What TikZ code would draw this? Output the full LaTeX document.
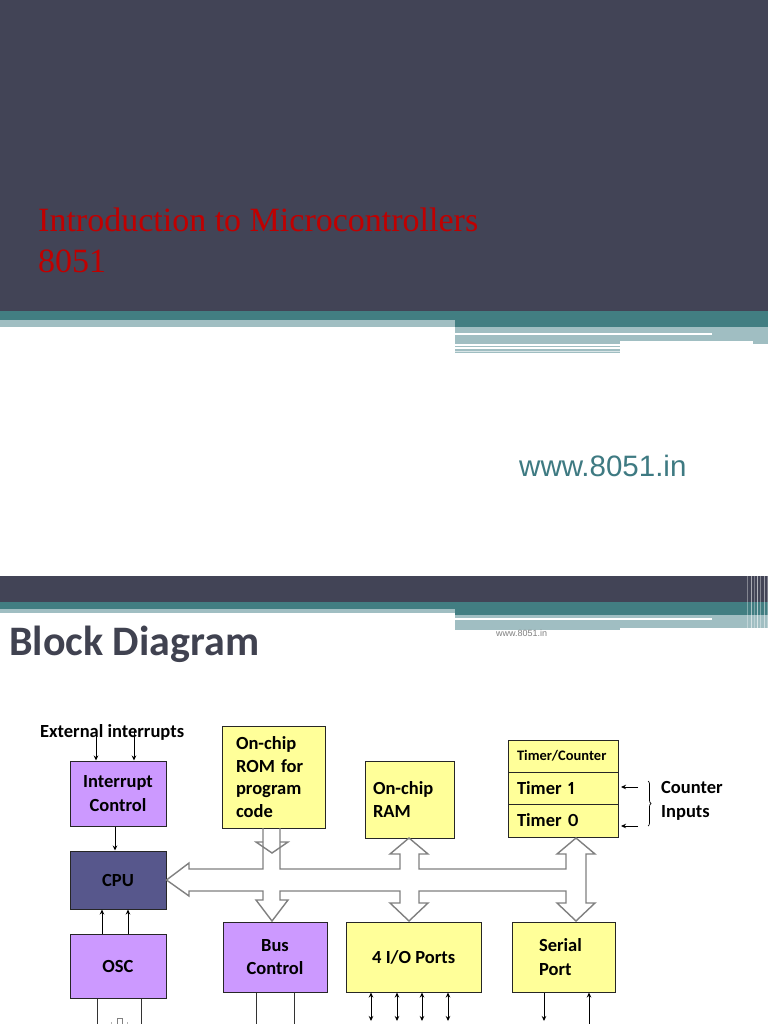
\documentclass[tikz,border=0pt]{standalone}
\usepackage{fontspec}
\newfontfamily\carl[Numbers=Proportional]{Carlito}
\newfontfamily\lsans{Liberation Sans}
\newfontfamily\lserif{Liberation Serif}
\usetikzlibrary{arrows.meta,calc,decorations.pathreplacing}
\definecolor{slidedark}{RGB}{66,68,86}
\definecolor{teal1}{RGB}{66,126,130}
\definecolor{lightteal}{RGB}{160,190,194}
\definecolor{titlered}{RGB}{192,0,0}
\definecolor{urlteal}{RGB}{62,122,130}
\definecolor{purp}{RGB}{204,153,255}
\definecolor{cpucol}{RGB}{87,87,140}
\definecolor{yel}{RGB}{255,255,153}
\definecolor{headgrey}{RGB}{64,66,80}
\definecolor{busgrey}{RGB}{128,128,128}
\begin{document}
\begin{tikzpicture}[x=1pt,y=-1pt,
  box/.style={draw=black!85, line width=1pt, inner sep=0pt, font=\carl\bfseries\fontsize{18.5}{23.5}\selectfont},
  lbl/.style={inner sep=0pt, font=\carl\bfseries\fontsize{18.5}{23.5}\selectfont, align=left},
  arr/.style={line width=0.9pt, -{Stealth[length=5pt,width=4.5pt]}},
  darr/.style={line width=0.9pt, {Stealth[length=5pt,width=4.5pt]}-{Stealth[length=5pt,width=4.5pt]}},
  bus/.style={draw=busgrey, line width=1.4pt, line join=miter},
  plain/.style={line width=0.9pt}
]
\useasboundingbox[fill=white] (0,0) rectangle (768,1024);

% ---------- slide 1 ----------
\fill[slidedark] (0,0) rectangle (768,311);
\fill[teal1] (0,311) rectangle (768,320);
\fill[teal1] (455,320) rectangle (768,327);
\fill[lightteal] (0,320) rectangle (455,327);
\fill[lightteal] (455,327) rectangle (620,344);
\fill[lightteal] (620,327) rectangle (768,341);
\fill[lightteal] (753,341) rectangle (768,344);
\fill[white] (455,333) rectangle (712,335);
\fill[lightteal] (455,345.5) rectangle (620,346.5);
\fill[lightteal] (455,349) rectangle (620,353);
\fill[white!60!lightteal] (455,350.6) rectangle (620,351.4);

\node[anchor=base west, inner sep=0pt, text=titlered, font=\lserif\fontsize{34}{38}\selectfont] (title1) at (38,232) {Introduction to Microcontrollers};
\node[anchor=base west, inner sep=0pt, text=titlered, font=\lserif\fontsize{34}{38}\selectfont] (title2) at (38,272) {8051};
\node[anchor=base west, inner sep=0pt, text=urlteal, font=\lsans\fontsize{29.5}{34}\selectfont] (url) at (519,476) {www.8051.in};

% ---------- slide 2 ----------
\fill[slidedark] (0,576) rectangle (768,602);
\fill[teal1] (0,602) rectangle (768,609);
\fill[teal1] (455,609) rectangle (768,615);
\fill[lightteal] (0,609) rectangle (455,613);
\fill[lightteal] (455,615) rectangle (620,630);
\fill[lightteal] (620,615) rectangle (768,628);
\fill[white] (455,618) rectangle (712,620);
\foreach \xx/\op in {747/0.35,750.5/0.55,754/0.3,757/0.6,760/0.35,763.5/0.5,766.5/0.3}
  \fill[white, opacity=\op] (\xx,576) rectangle (\xx+1.4,629);

\node[anchor=base west, inner sep=0pt, text=headgrey, font=\carl\bfseries\fontsize{42}{48}\selectfont] (bd) at (9,655) {Block Diagram};
\node[anchor=base west, inner sep=0pt, text=gray, font=\lsans\fontsize{9}{11}\selectfont] (url2) at (496,636) {www.8051.in};

% ---------- diagram ----------
\node[anchor=base west, lbl, font=\carl\bfseries\fontsize{18.5}{22}\selectfont] (ext) at (40,737) {External interrupts};

\node[box, fill=purp, minimum width=96pt, minimum height=65pt, align=center] (ic) at (118,793.5) {Interrupt\\Control};
\node[box, fill=cpucol, minimum width=96pt, minimum height=58pt] (cpu) at (118,880) {CPU};
\node[box, fill=purp, minimum width=96pt, minimum height=64pt] (osc) at (118,966) {OSC};

\node[box, fill=yel, minimum width=103pt, minimum height=102pt, inner xsep=14pt, text width=75pt, align=left, font=\carl\bfseries\fontsize{18.5}{22.5}\selectfont] (rom) at (273.5,777) {On-chip\\ROM for\\program\\code};
\node[box, fill=purp, minimum width=104pt, minimum height=70pt, align=center] (bc) at (275,957) {Bus\\Control};

\node[box, fill=yel, minimum width=89pt, minimum height=77pt, inner xsep=8pt, text width=73pt, align=left] (ram) at (409.5,799.5) {On-chip\\RAM};
\node[box, fill=yel, minimum width=135pt, minimum height=70pt] (io) at (413.5,957) {4 I/O Ports};

\node[box, fill=yel, minimum width=110pt, minimum height=32pt, inner xsep=9pt, text width=92pt, align=left, font=\carl\bfseries\fontsize{14.5}{17}\selectfont] (tc) at (563,756) {Timer/Counter};
\node[box, fill=yel, minimum width=110pt, minimum height=32pt, inner xsep=9pt, text width=92pt, align=left] (tm1) at (563,788) {Timer 1};
\node[box, fill=yel, minimum width=110pt, minimum height=33pt, inner xsep=9pt, text width=92pt, align=left] (tm0) at (563,820.5) {Timer 0};
\node[box, fill=yel, minimum width=103pt, minimum height=70pt, inner xsep=27pt, text width=49pt, align=left] (sp) at (563.5,957) {Serial\\Port};

\node[lbl, anchor=west] (cin) at (661,801) {Counter\\Inputs};

% external interrupts
\coordinate (e1) at (96,729);
\coordinate (e2) at (134,729);
\draw[arr] (e1) -- (e1 |- ic.north);
\draw[arr] (e2) -- (e2 |- ic.north);
% interrupt -> cpu
\draw[arr] ($(ic.south)+(-3,0)$) -- ($(cpu.north)+(-3,0)$);
% osc -> cpu
\draw[arr] ($(osc.north)+(-16,0)$) -- ($(cpu.south)+(-16,0)$);
\draw[arr] ($(osc.north)+(10,0)$) -- ($(cpu.south)+(10,0)$);
% below osc
\draw[plain, black!80] ($(osc.south)+(-21,0)$) -- ++(0,40);
\draw[plain, black!80] ($(osc.south)+(23,0)$) -- ++(0,40);
\draw[busgrey, line width=0.8pt] (117,1030) -- (117,1018) -- (122,1018) -- (122,1030);
\draw[busgrey!60, line width=0.6pt] (111,1022) -- (111,1030);
\draw[busgrey!60, line width=0.6pt] (127,1022) -- (127,1030);
% below bus control
\draw[plain, black!80] ($(bc.south)+(-19,0)$) -- ++(0,40);
\draw[plain, black!80] ($(bc.south)+(19,0)$) -- ++(0,40);
% io ports
\foreach \xx in {371,397,422,448}
  \draw[darr] (\xx,992.5) -- (\xx,1021);
% serial port
\draw[arr] (544,992.5) -- (544,1021);
\draw[arr] (589,1030) -- (589,992.5);
% counter inputs
\coordinate (c1) at (638,787);
\coordinate (c0) at (638,826);
\draw[arr] (c1) -- (621,787);
\draw[arr] (c0) -- (621,826);
\draw[line width=0.7pt, decorate, decoration={brace, amplitude=3pt}] (648,781) -- (648,826);

% system bus (hollow arrows)
\draw[bus] (263,828) -- (263,869) -- (189,869) -- (189,863) -- (cpu.east) -- (189,896) -- (189,891)
  -- (263,891) -- (263,900) -- (256,900) -- (272,921) -- (288,900) -- (280,900) -- (280,891)
  -- (400,891) -- (400,903) -- (390,903) -- (409,921) -- (428,903) -- (419,903) -- (419,891)
  -- (566,891) -- (566,903) -- (557,903) -- (576,921) -- (595,903) -- (586,903)
  -- (586,854) -- (595,854) -- (576,838) -- (557,854) -- (566,854) -- (566,869)
  -- (419,869) -- (419,854) -- (428,854) -- (409,838) -- (390,854) -- (400,854) -- (400,869)
  -- (280,869) -- (280,828);
\draw[bus] (263,842) -- (256,842) -- (272,853) -- (288,842) -- (280,842);
\end{tikzpicture}
\end{document}
